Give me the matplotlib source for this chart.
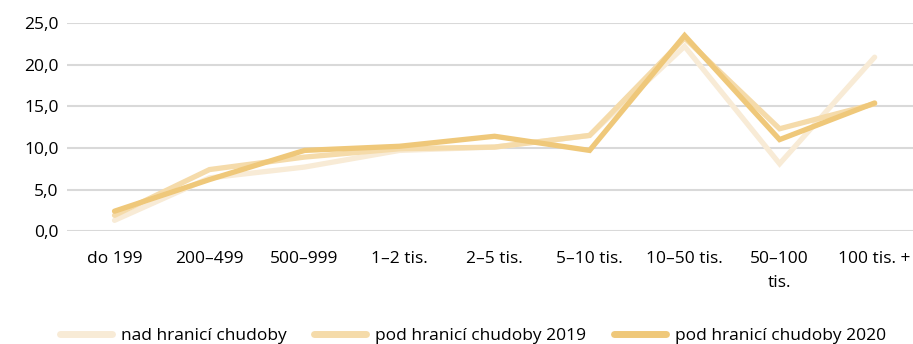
import matplotlib
matplotlib.use("Agg")
import matplotlib.pyplot as plt
from matplotlib.ticker import FuncFormatter
from matplotlib import font_manager

categories = ["do 199", "200–499", "500–999", "1–2 tis.", "2–5 tis.",
              "5–10 tis.", "10–50 tis.", "50–100\ntis.", "100 tis. +"]
nad_hranici = [1.3, 6.4, 7.7, 9.7, 10.1, 11.5, 22.2, 8.1, 20.9]
pod_hranici_2019 = [1.9, 7.4, 8.9, 9.9, 10.1, 11.5, 23.2, 12.3, 15.3]
pod_hranici_2020 = [2.4, 6.2, 9.7, 10.2, 11.4, 9.7, 23.5, 11.0, 15.4]

series = [
    ("nad hranicí chudoby", nad_hranici, "#F8EBD6"),
    ("pod hranicí chudoby 2019", pod_hranici_2019, "#F5DBAA"),
    ("pod hranicí chudoby 2020", pod_hranici_2020, "#EFC87A"),
]

available = {f.name for f in font_manager.fontManager.ttflist}
family = "Liberation Sans Narrow" if "Liberation Sans Narrow" in available else "Open Sans"
plt.rcParams["font.family"] = [family, "DejaVu Sans"]

fig = plt.figure(figsize=(9.13, 3.44), dpi=100)
ax = fig.add_axes([0.0734, 0.328, 0.9366, 0.605])

x = list(range(len(categories)))
for label, values, color in series:
    ax.plot(x, values, color=color, linewidth=3.8, solid_joinstyle="miter",
            solid_capstyle="round", label=label, zorder=3)

ax.set_xlim(-0.5, len(categories) - 0.5)
ax.set_ylim(0, 25)
ax.set_yticks([0, 5, 10, 15, 20, 25])
ax.yaxis.set_major_formatter(FuncFormatter(lambda v, p: f"{v:.1f}".replace(".", ",")))
ax.set_xticks(x)
ax.set_xticklabels(categories, fontsize=12.5, color="#000000", linespacing=1.7,
                   verticalalignment="top")
ax.tick_params(axis="y", labelsize=12.5, length=0, pad=6, colors="#000000")
ax.tick_params(axis="x", length=0, pad=14)
ax.grid(axis="y", color="#D9D9D9", linewidth=1.5, zorder=0)
for s in ax.spines.values():
    s.set_visible(False)

leg = fig.legend(loc="lower center", bbox_to_anchor=(0.518, -0.045), ncol=3,
                 frameon=False, fontsize=12.5, handlelength=3.0,
                 columnspacing=1.6, handletextpad=0.5)
for line in leg.get_lines():
    line.set_linewidth(5)
    line.set_solid_capstyle("round")

fig.savefig("out.png", dpi=100)
